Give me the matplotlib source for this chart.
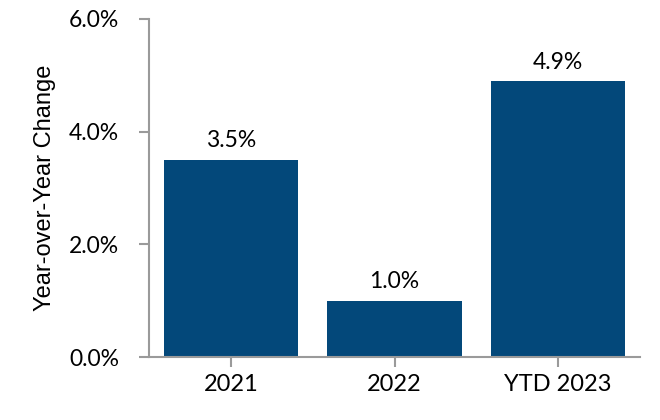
import matplotlib
matplotlib.use("Agg")
import matplotlib.pyplot as plt

# data
categories = ["2021", "2022", "YTD 2023"]
yoy_change = [3.5, 1.0, 4.9]
y_ticks = [0, 2, 4, 6]

bar_color = "#03487a"
spine_color = "#9a9a9a"

fig = plt.figure(figsize=(6.6, 4.2), dpi=100)
ax = fig.add_axes([0.2258, 0.15, 0.7439, 0.8048])

x = range(len(categories))
bars = ax.bar(x, yoy_change, width=0.82, color=bar_color, zorder=2)

# value labels above the bars
for b, v in zip(bars, yoy_change):
    ax.annotate(f"{v:.1f}%", (b.get_x() + b.get_width() / 2, v),
                xytext=(0, 6), textcoords="offset points",
                ha="center", va="bottom", fontsize=16.5, family="Lato")

ax.set_xlim(-0.5, 2.5)
ax.set_ylim(0, 6)
ax.set_xticks(list(x))
ax.set_xticklabels(categories, fontsize=17, family="Lato")
ax.set_yticks(y_ticks)
ax.set_yticklabels([f"{t:.1f}%" for t in y_ticks], fontsize=16.5, family="Lato")
ax.set_ylabel("Year-over-Year Change", fontsize=17, family="Liberation Sans", labelpad=9)

for side in ["top", "right"]:
    ax.spines[side].set_visible(False)
for side in ["left", "bottom"]:
    ax.spines[side].set_color(spine_color)
    ax.spines[side].set_linewidth(1.5)
ax.tick_params(axis="both", direction="out", length=7.5, width=1.5, color=spine_color)
ax.tick_params(axis="y", pad=14)
ax.tick_params(axis="x", pad=5)

fig.savefig("out.png", dpi=100)
